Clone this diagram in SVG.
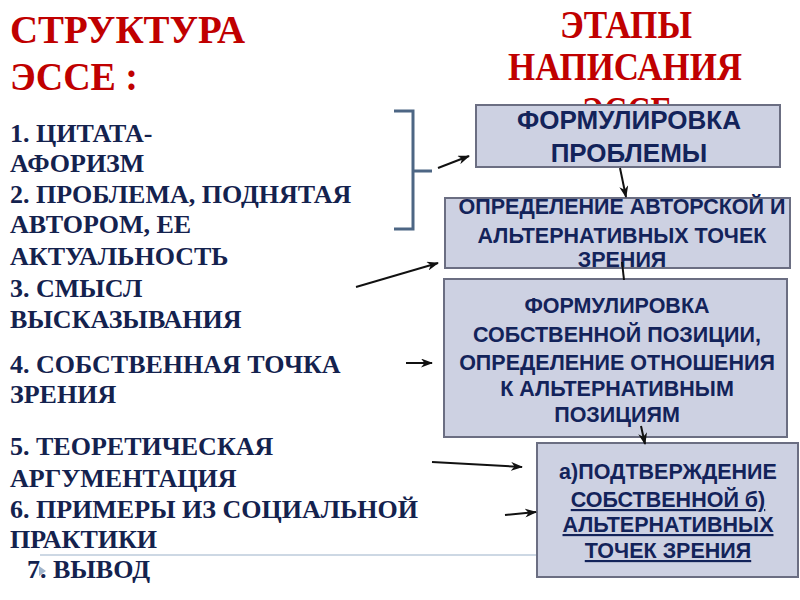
<svg xmlns="http://www.w3.org/2000/svg" width="800" height="600" viewBox="0 0 800 600">
<defs>
<marker id="ah" markerWidth="12" markerHeight="9" refX="11" refY="4.5" orient="auto" markerUnits="userSpaceOnUse">
<path d="M0,0 L12,4.5 L0,9 L3.5,4.5 Z" fill="#111"/>
</marker>
<style>
.title{font-family:"Liberation Serif","Times New Roman",serif;font-weight:bold;font-size:40px;fill:#c00000}
.item{font-family:"Liberation Serif","Times New Roman",serif;font-weight:bold;font-size:26px;fill:#14224e}
.box{fill:#cdd1e2;stroke:#6b6e82;stroke-width:2}
.bt{font-family:"Liberation Sans",Arial,sans-serif;font-weight:bold;font-size:21.5px;fill:#13235a;text-anchor:middle}
.big{font-size:26px}
.con{stroke:#111;stroke-width:2;fill:none}
.br{stroke:#4d6684;stroke-width:3;fill:none}
</style>
</defs>
<rect width="800" height="600" fill="#fff"/>
<g id="title-left">
<text class="title" x="10" y="43" textLength="235" lengthAdjust="spacingAndGlyphs">СТРУКТУРА</text>
<text class="title" x="10" y="90" textLength="128" lengthAdjust="spacingAndGlyphs">ЭССЕ :</text>
</g>
<g id="title-right">
<text class="title" x="560" y="38" textLength="132" lengthAdjust="spacingAndGlyphs">ЭТАПЫ</text>
<text class="title" x="508" y="80" textLength="234" lengthAdjust="spacingAndGlyphs">НАПИСАНИЯ</text>
<text class="title" x="582" y="124" textLength="90" lengthAdjust="spacingAndGlyphs">ЭССЕ</text>
</g>
<line x1="40" y1="555" x2="537" y2="555" stroke="#cdd8e4" stroke-width="2"/>
<polygon points="39,566 46,571 39,576" fill="#9fb4cc"/>
<g id="list">
<text class="item" x="10" y="142">1. ЦИТАТА-</text>
<text class="item" x="10" y="172">АФОРИЗМ</text>
<text class="item" x="10" y="203">2. ПРОБЛЕМА, ПОДНЯТАЯ</text>
<text class="item" x="10" y="233">АВТОРОМ, ЕЕ</text>
<text class="item" x="10" y="265">АКТУАЛЬНОСТЬ</text>
<text class="item" x="10" y="297">3. СМЫСЛ</text>
<text class="item" x="10" y="328">ВЫСКАЗЫВАНИЯ</text>
<text class="item" x="10" y="373">4. СОБСТВЕННАЯ ТОЧКА</text>
<text class="item" x="10" y="403">ЗРЕНИЯ</text>
<text class="item" x="10" y="455">5. ТЕОРЕТИЧЕСКАЯ</text>
<text class="item" x="10" y="487">АРГУМЕНТАЦИЯ</text>
<text class="item" x="10" y="518">6. ПРИМЕРЫ ИЗ СОЦИАЛЬНОЙ</text>
<text class="item" x="10" y="548">ПРАКТИКИ</text>
<text class="item" x="27" y="578">7. ВЫВОД</text>
</g>
<g id="bracket">
<path class="br" d="M394,111 H413 V229 H394 M413,171 H432"/>
</g>
<g id="box1">
<rect class="box" x="476" y="105" width="304" height="62"/>
<text class="bt big" x="629" y="129">ФОРМУЛИРОВКА</text>
<text class="bt big" x="629" y="162">ПРОБЛЕМЫ</text>
</g>
<g id="box2">
<rect class="box" x="445" y="198" width="345" height="70"/>
<text class="bt" x="622" y="214">ОПРЕДЕЛЕНИЕ АВТОРСКОЙ И</text>
<text class="bt" x="622" y="243">АЛЬТЕРНАТИВНЫХ ТОЧЕК</text>
<text class="bt" x="622" y="267">ЗРЕНИЯ</text>
</g>
<g id="box3">
<rect class="box" x="444" y="279" width="343" height="158"/>
<text class="bt" x="617" y="313">ФОРМУЛИРОВКА</text>
<text class="bt" x="617" y="342">СОБСТВЕННОЙ ПОЗИЦИИ,</text>
<text class="bt" x="617" y="370">ОПРЕДЕЛЕНИЕ ОТНОШЕНИЯ</text>
<text class="bt" x="617" y="396">К АЛЬТЕРНАТИВНЫМ</text>
<text class="bt" x="617" y="422">ПОЗИЦИЯМ</text>
</g>
<g id="box4">
<rect class="box" x="537" y="443" width="261" height="134"/>
<text class="bt" x="668" y="479">а)ПОДТВЕРЖДЕНИЕ</text>
<text class="bt" x="668" y="507" text-decoration="underline">СОБСТВЕННОЙ б)</text>
<text class="bt" x="668" y="532" text-decoration="underline">АЛЬТЕРНАТИВНЫХ</text>
<text class="bt" x="668" y="558" text-decoration="underline">ТОЧЕК ЗРЕНИЯ</text>
</g>
<g id="connectors">
<line class="con" x1="438" y1="168" x2="469" y2="156" marker-end="url(#ah)"/>
<line class="con" x1="356" y1="287" x2="438" y2="263" marker-end="url(#ah)"/>
<line class="con" x1="406" y1="363" x2="432" y2="363" marker-end="url(#ah)"/>
<line class="con" x1="432" y1="462" x2="522" y2="467" marker-end="url(#ah)"/>
<line class="con" x1="505" y1="515" x2="536" y2="512" marker-end="url(#ah)"/>
<line class="con" x1="620" y1="168" x2="626" y2="197" marker-end="url(#ah)"/>
<line class="con" x1="622" y1="262" x2="624" y2="280"/>
<line class="con" x1="641" y1="426" x2="645" y2="444" marker-end="url(#ah)"/>
</g>
</svg>
